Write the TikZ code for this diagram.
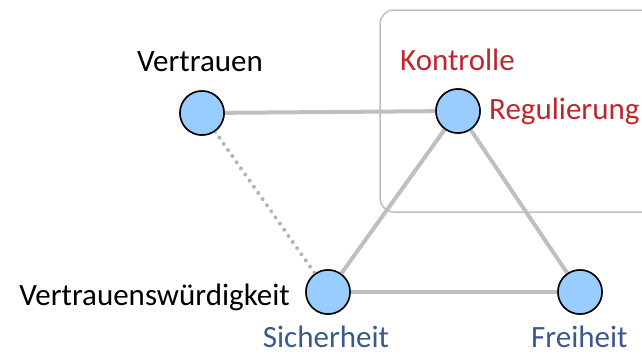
\documentclass[tikz,border=0pt]{standalone}
\usepackage{fontspec}
\setmainfont{Carlito}
\definecolor{edgegray}{HTML}{BFBFBF}
\definecolor{dotgray}{HTML}{B4B4B4}
\definecolor{nodefill}{HTML}{99CCFF}
\definecolor{labelred}{HTML}{C0262D}
\definecolor{labelblue}{HTML}{3A5A8C}
\begin{document}
\begin{tikzpicture}[x=1pt,y=-1pt,
  dot/.style={circle,draw=black,line width=1.5pt,fill=nodefill,minimum size=44pt,inner sep=0pt},
  link/.style={draw=edgegray,line width=4pt},
  weaklink/.style={draw=dotgray,line width=4pt,line cap=round,dash pattern=on 0pt off 7.5pt},
  lbl/.style={font=\fontsize{31}{35}\selectfont,inner sep=0pt},
  frame/.style={draw=edgegray,line width=1.5pt,rounded corners=14pt}]
\useasboundingbox (0,0) rectangle (642,354);
% grouping frame around the control corner
\draw[frame] (380,10) rectangle (660,212);
% nodes
\node[dot] (vt) at (202,113) {};
\node[dot] (rg) at (458,111) {};
\node[dot] (si) at (328,292) {};
\node[dot] (fr) at (580,292) {};
% connectors
\draw[link] (vt) -- (rg);
\draw[link] (rg) -- (si);
\draw[link] (rg) -- (fr);
\draw[link] (si) -- (fr);
\draw[weaklink] (vt) -- (si);
% redraw nodes above the lines
\node[dot] at (vt) {};
\node[dot] at (rg) {};
\node[dot] at (si) {};
\node[dot] at (fr) {};
% labels
\node[lbl,anchor=base] (tvt) at (200,71) {Vertrauen};
\node[lbl,anchor=base west,text=labelred] (tko) at (400,70) {Kontrolle};
\node[lbl,anchor=base west,text=labelred] (trg) at (489,119) {Regulierung};
\node[lbl,anchor=base east] (tvw) at (290,305) {Vertrauenswürdigkeit};
\node[lbl,anchor=base,text=labelblue] (tsi) at (326,347) {Sicherheit};
\node[lbl,anchor=base west,text=labelblue] (tfr) at (531,347) {Freiheit};
\end{tikzpicture}
\end{document}
